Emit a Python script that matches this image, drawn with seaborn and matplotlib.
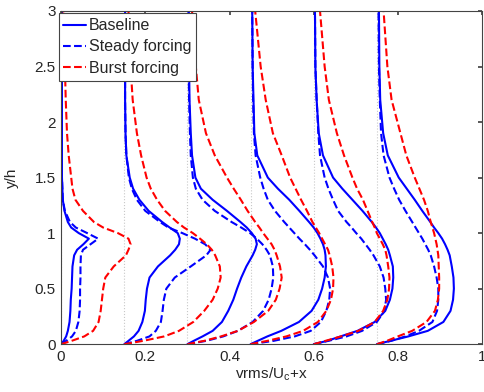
import numpy as np
import matplotlib
matplotlib.use("Agg")
import matplotlib.pyplot as plt
import seaborn as sns
from matplotlib.ticker import FuncFormatter

# wall-normal positions shared by all profiles
yh = [0, 0.03, 0.07, 0.12, 0.2, 0.3, 0.4, 0.5, 0.6, 0.7, 0.8, 0.85, 0.9, 0.95,
      1.0, 1.05, 1.1, 1.2, 1.3, 1.4, 1.5, 1.7, 1.9, 2.2, 2.5, 3.0]

# streamwise stations (offset added to vrms/Uc)
offsets = [0, 0.15, 0.3, 0.45, 0.6, 0.75]

# baseline vrms/Uc at each station
base1 = [0, 0.006, 0.012, 0.016, 0.02, 0.022, 0.023, 0.025, 0.026, 0.027, 0.031, 0.038, 0.053, 0.066,
         0.042, 0.024, 0.016, 0.008, 0.004, 0.003, 0.002, 0.002, 0.002, 0.002, 0.002, 0.002]
base2 = [0, 0.01, 0.023, 0.034, 0.043, 0.049, 0.051, 0.054, 0.06, 0.08, 0.109, 0.121, 0.13, 0.132,
         0.127, 0.108, 0.09, 0.058, 0.036, 0.021, 0.013, 0.005, 0.003, 0.002, 0.002, 0.002]
base3 = [0, 0.015, 0.036, 0.06, 0.082, 0.097, 0.109, 0.118, 0.128, 0.14, 0.155, 0.161, 0.165, 0.162,
         0.153, 0.141, 0.126, 0.094, 0.06, 0.032, 0.019, 0.011, 0.008, 0.005, 0.004, 0.003]
base4 = [0, 0.017, 0.04, 0.073, 0.115, 0.145, 0.161, 0.17, 0.176, 0.179, 0.178, 0.176, 0.172, 0.166,
         0.159, 0.15, 0.139, 0.116, 0.092, 0.065, 0.041, 0.016, 0.009, 0.007, 0.005, 0.004]
base5 = [0, 0.032, 0.064, 0.104, 0.145, 0.17, 0.181, 0.187, 0.189, 0.188, 0.181, 0.177, 0.171, 0.164,
         0.157, 0.148, 0.138, 0.116, 0.092, 0.068, 0.046, 0.022, 0.012, 0.007, 0.004, 0.003]
base6 = [0, 0.032, 0.075, 0.121, 0.158, 0.175, 0.181, 0.183, 0.182, 0.178, 0.173, 0.168, 0.162, 0.155,
         0.146, 0.136, 0.127, 0.108, 0.09, 0.071, 0.052, 0.026, 0.015, 0.008, 0.006, 0.005]

# steady forcing
steady1 = [0, 0.012, 0.026, 0.035, 0.041, 0.044, 0.045, 0.045, 0.046, 0.046, 0.047, 0.052, 0.07, 0.088,
           0.062, 0.035, 0.021, 0.009, 0.004, 0.003, 0.002, 0.002, 0.002, 0.002, 0.002, 0.002]
steady2 = [0, 0.03, 0.06, 0.075, 0.087, 0.091, 0.094, 0.1, 0.12, 0.158, 0.195, 0.205, 0.192, 0.168,
           0.138, 0.105, 0.085, 0.05, 0.03, 0.018, 0.011, 0.005, 0.003, 0.002, 0.002, 0.002]
steady3 = [0, 0.045, 0.085, 0.12, 0.155, 0.18, 0.193, 0.2, 0.204, 0.203, 0.196, 0.188, 0.178, 0.165,
           0.149, 0.128, 0.105, 0.065, 0.036, 0.02, 0.013, 0.008, 0.006, 0.004, 0.003, 0.003]
steady4 = [0, 0.055, 0.105, 0.143, 0.167, 0.18, 0.187, 0.189, 0.184, 0.172, 0.152, 0.141, 0.129, 0.116,
           0.104, 0.092, 0.08, 0.058, 0.041, 0.031, 0.023, 0.012, 0.008, 0.006, 0.005, 0.004]
steady5 = [0, 0.035, 0.078, 0.115, 0.15, 0.168, 0.172, 0.17, 0.166, 0.157, 0.142, 0.133, 0.123, 0.113,
           0.101, 0.09, 0.078, 0.058, 0.046, 0.035, 0.026, 0.015, 0.011, 0.007, 0.004, 0.003]
steady6 = [0, 0.034, 0.068, 0.1, 0.132, 0.143, 0.146, 0.146, 0.142, 0.136, 0.128, 0.122, 0.115, 0.108,
           0.1, 0.092, 0.084, 0.068, 0.053, 0.041, 0.03, 0.016, 0.01, 0.007, 0.005, 0.004]

# burst forcing
burst1 = [0, 0.025, 0.055, 0.076, 0.089, 0.094, 0.097, 0.1, 0.105, 0.125, 0.154, 0.16, 0.165, 0.16,
          0.135, 0.1, 0.078, 0.052, 0.034, 0.027, 0.024, 0.018, 0.014, 0.011, 0.009, 0.005]
burst2 = [0, 0.045, 0.095, 0.13, 0.164, 0.19, 0.21, 0.222, 0.229, 0.227, 0.216, 0.208, 0.196, 0.18,
          0.163, 0.142, 0.125, 0.097, 0.078, 0.063, 0.053, 0.04, 0.03, 0.02, 0.015, 0.01]
burst3 = [0, 0.04, 0.08, 0.12, 0.158, 0.192, 0.21, 0.219, 0.224, 0.22, 0.212, 0.207, 0.2, 0.19,
          0.18, 0.171, 0.161, 0.143, 0.127, 0.11, 0.094, 0.065, 0.044, 0.027, 0.02, 0.011]
burst4 = [0, 0.04, 0.085, 0.125, 0.16, 0.18, 0.191, 0.196, 0.197, 0.194, 0.188, 0.184, 0.177, 0.17,
          0.163, 0.155, 0.147, 0.134, 0.12, 0.107, 0.094, 0.074, 0.053, 0.036, 0.024, 0.011]
burst5 = [0, 0.028, 0.065, 0.106, 0.145, 0.165, 0.175, 0.179, 0.18, 0.177, 0.173, 0.17, 0.164, 0.157,
          0.15, 0.145, 0.139, 0.128, 0.117, 0.103, 0.092, 0.072, 0.055, 0.036, 0.026, 0.015]
burst6 = [0, 0.024, 0.05, 0.084, 0.118, 0.138, 0.145, 0.148, 0.148, 0.147, 0.146, 0.144, 0.142, 0.139,
          0.136, 0.132, 0.128, 0.121, 0.112, 0.101, 0.09, 0.07, 0.056, 0.035, 0.025, 0.016]

baseline = [base1, base2, base3, base4, base5, base6]
steady = [steady1, steady2, steady3, steady4, steady5, steady6]
burst = [burst1, burst2, burst3, burst4, burst5, burst6]


def main():
    sns.set_theme(style="white")
    plt.rcParams['font.family'] = ['Liberation Sans', 'DejaVu Sans']
    plt.rcParams['xtick.direction'] = 'in'
    plt.rcParams['ytick.direction'] = 'in'
    plt.rcParams['axes.edgecolor'] = '#444444'

    fig = plt.figure(figsize=(4.85, 3.92), dpi=100)
    ax = fig.add_axes([0.126, 0.122, 0.868, 0.850])

    for off in offsets:
        ax.axvline(off, color='#c8c8c8', ls=':', lw=0.8, zorder=0)

    y = np.array(yh)
    series = [(baseline, 'Baseline', '#0000ff', '-'),
              (steady, 'Steady forcing', '#0000ff', '--'),
              (burst, 'Burst forcing', '#ff0000', '--')]
    for profiles, name, col, ls in series:
        for i, (off, prof) in enumerate(zip(offsets, profiles)):
            sns.lineplot(x=np.array(prof) + off, y=y, sort=False, estimator=None,
                         color=col, linestyle=ls, lw=1.5, ax=ax, legend=False,
                         label=name if i == 0 else None)

    ax.set_xlim(0, 1)
    ax.set_ylim(0, 3)
    ax.set_xticks([0, 0.2, 0.4, 0.6, 0.8, 1])
    ax.set_yticks([0, 0.5, 1, 1.5, 2, 2.5, 3])
    fmt = FuncFormatter(lambda v, p: "%g" % v)
    ax.xaxis.set_major_formatter(fmt)
    ax.yaxis.set_major_formatter(fmt)
    ax.tick_params(axis='both', which='both', top=True, right=True, length=3,
                   labelsize=11, color='#444444', pad=4)
    for s in ax.spines.values():
        s.set_linewidth(0.8)
    ax.set_xlabel(r"vrms/U$_{\mathregular{c}}$+x", fontsize=11, labelpad=1)
    ax.set_ylabel("y/h", fontsize=11, labelpad=11)

    leg = ax.legend(loc='upper left', fontsize=11.5, frameon=True, fancybox=False,
                    framealpha=1, edgecolor='#444444', handlelength=1.4,
                    bbox_to_anchor=(-0.006, 0.993), borderaxespad=0,
                    labelspacing=0.4, handletextpad=0.2, borderpad=0.3)
    leg.get_frame().set_linewidth(0.8)

    fig.savefig("out.png", dpi=100)


if __name__ == "__main__":
    main()
